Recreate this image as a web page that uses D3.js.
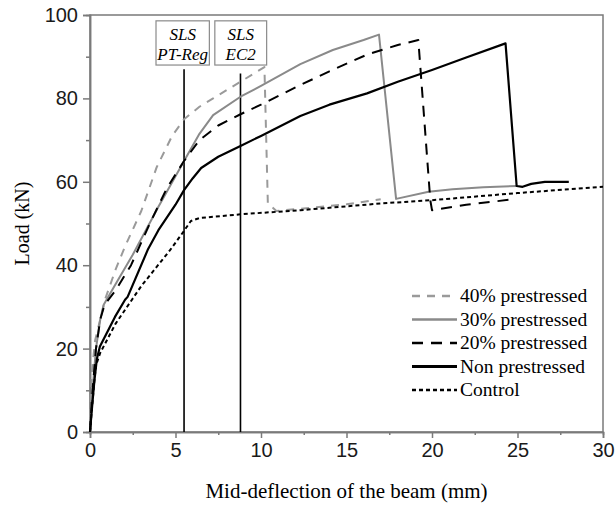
<!DOCTYPE html>
<html>
<head>
<meta charset="utf-8">
<script src="https://cdn.jsdelivr.net/npm/d3@7"></script>
<style>
  body { margin: 0; background: #fff; }
</style>
</head>
<body>
<div id="container"></div>
<script>
let w = 616;
let h = 509;

// load-deflection curves, [deflection mm, load kN]
let p40 = [[0,0],[0.05,8],[0.1,14],[0.3,22],[0.6,27],[0.9,32],[1.5,39],[2.05,44.5],[3,53],[3.9,63.5],[4.8,71],[5.5,75],[6.4,78],[7.2,80],[8.8,84],[10.2,87.5],[10.4,54.8],[10.9,53],[13,53.8],[15,54.6],[17,55.8]];
let p30 = [[0,0],[0.15,10],[0.35,20],[0.6,27],[0.8,30.5],[1.5,35.5],[2.5,42.5],[4,54],[5.5,65],[6.4,71.5],[7.2,76],[8.8,80.4],[10,83],[12.3,88.2],[14.2,91.6],[16,94],[16.9,95.3],[17.9,55.9],[19.8,57.6],[21.2,58.2],[23,58.7],[25,59]];
let p20 = [[0,0],[0.15,10],[0.35,20],[0.6,27],[0.85,30.5],[1.5,34],[2.4,40],[3.5,50],[4.5,58.5],[5.5,65],[6.4,70],[7.5,73.5],[8.8,76.2],[10,78.5],[12.3,83.2],[14,86.5],[16.2,90.5],[18,92.8],[19.2,94],[19.9,55.6],[20,53.2],[22,54.5],[24.75,55.8]];
let p0 = [[0,0],[0.1,5],[0.25,12],[0.4,17.5],[0.58,20.5],[1.46,27.6],[2.05,31.7],[2.2,32.4],[3.4,43.9],[4,48.4],[5,54.5],[5.5,58],[6,60.8],[6.5,63.3],[7.5,66],[8.8,68.6],[10,71],[12.3,75.8],[14,78.5],[16.2,81.2],[18,84],[20,86.8],[22,89.8],[24.3,93.2],[24.95,59],[25.3,58.8],[25.8,59.5],[26.6,60],[28,60]];
let control = [[0,0],[0.1,5],[0.25,12],[0.35,16],[0.6,19],[1.5,26],[3,35],[4.68,43.6],[5.46,48],[5.9,50.6],[6.4,51.3],[8.8,52.2],[12.3,53.2],[17,54.8],[20,55.6],[25,57.3],[30,58.8]];

let seriesNames = ["40% prestressed", "30% prestressed", "20% prestressed", "Non prestressed", "Control"];
let seriesData = [p40, p30, p20, p0, control];

// SLS limits
let slsX = [5.5, 8.8];
let slsTop = [87, 86];
let slsLabel = [["SLS", "PT-Reg"], ["SLS", "EC2"]];
let slsBoxX = [[3.86, 6.98], [7.3, 10.33]];

let xTicks = [0, 5, 10, 15, 20, 25, 30];
let yTicks = [0, 20, 40, 60, 80, 100];

let styles = [
  {color: "#9a9a9a", width: 2, dash: "8,7"},
  {color: "#8a8a8a", width: 2, dash: null},
  {color: "#000", width: 2, dash: "11,8"},
  {color: "#000", width: 2.2, dash: null},
  {color: "#000", width: 2, dash: "4,3"}
];

let margin = {left: 90, right: 13, top: 15, bottom: 77};

let viz = d3.select("#container")
  .append("svg")
    .attr("width", w)
    .attr("height", h)
    .style("background-color", "#fff")
;

let x = d3.scaleLinear().domain([0, 30]).range([margin.left, w - margin.right]);
let y = d3.scaleLinear().domain([0, 100]).range([h - margin.bottom, margin.top]);

let axisColor = "#7a7a7a";
let serif = "'Liberation Serif', 'Times New Roman', serif";

// frame
viz.append("rect")
    .attr("x", x(0))
    .attr("y", y(100))
    .attr("width", x(30) - x(0))
    .attr("height", y(0) - y(100))
    .attr("fill", "none")
    .attr("stroke", axisColor)
    .attr("stroke-width", 1.5)
;

// x axis
let xAxis = viz.append("g")
    .attr("transform", "translate(0," + y(0) + ")")
    .call(d3.axisBottom(x).tickValues(xTicks).tickSize(6).tickPadding(5).tickFormat(d3.format("d")));
xAxis.append("g")
    .call(d3.axisBottom(x).tickValues(d3.range(2.5, 30, 5)).tickSize(3).tickFormat(""));

// y axis
let yAxis = viz.append("g")
    .attr("transform", "translate(" + x(0) + ",0)")
    .call(d3.axisLeft(y).tickValues(yTicks).tickSize(7).tickPadding(5));
yAxis.append("g")
    .call(d3.axisLeft(y).tickValues(d3.range(10, 100, 20)).tickSize(4).tickFormat(""));

viz.selectAll(".domain").attr("stroke", axisColor).attr("stroke-width", 1.5);
viz.selectAll(".tick line").attr("stroke", axisColor).attr("stroke-width", 1.5);
viz.selectAll(".tick text")
    .attr("fill", "#1a1a1a")
    .style("font-family", "'Liberation Sans', Arial, sans-serif")
    .style("font-size", "20px")
;

// axis titles
viz.append("text")
    .attr("x", (x(0) + x(30)) / 2)
    .attr("y", 498)
    .attr("text-anchor", "middle")
    .style("font-family", serif)
    .style("font-size", "21px")
    .text("Mid-deflection of the beam (mm)")
;
viz.append("text")
    .attr("transform", "translate(29," + (y(0) + y(100)) / 2 + ") rotate(-90)")
    .attr("text-anchor", "middle")
    .style("font-family", serif)
    .style("font-size", "20px")
    .text("Load (kN)")
;

// SLS vertical lines
viz.selectAll(".sls").data(slsX).enter()
  .append("line")
    .attr("class", "sls")
    .attr("x1", d => x(d))
    .attr("x2", d => x(d))
    .attr("y1", y(0))
    .attr("y2", (d, i) => y(slsTop[i]))
    .attr("stroke", "#000")
    .attr("stroke-width", 1.6)
;

// SLS boxes
let boxes = viz.selectAll(".slsbox").data(slsBoxX).enter()
  .append("g")
    .attr("class", "slsbox")
;
boxes.append("rect")
    .attr("x", d => x(d[0]))
    .attr("y", y(98.6))
    .attr("width", d => x(d[1]) - x(d[0]))
    .attr("height", y(88) - y(98.6))
    .attr("fill", "#fff")
    .attr("stroke", "#8a8a8a")
    .attr("stroke-width", 1.2)
;
boxes.each(function(d, i) {
  let g = d3.select(this);
  slsLabel[i].forEach(function(t, j) {
    g.append("text")
        .attr("x", (x(d[0]) + x(d[1])) / 2)
        .attr("y", j == 0 ? 40 : 60)
        .attr("text-anchor", "middle")
        .style("font-family", serif)
        .style("font-style", "italic")
        .style("font-size", "17px")
        .text(t);
  });
});

// curves
let line = d3.line().x(d => x(d[0])).y(d => y(d[1]));

viz.selectAll(".curve").data(seriesData).enter()
  .append("path")
    .attr("class", "curve")
    .attr("d", line)
    .attr("fill", "none")
    .attr("stroke", (d, i) => styles[i].color)
    .attr("stroke-width", (d, i) => styles[i].width)
    .attr("stroke-dasharray", (d, i) => styles[i].dash)
    .attr("stroke-linejoin", "round")
;

// legend
let legend = viz.selectAll(".legend").data(seriesNames).enter()
  .append("g")
    .attr("class", "legend")
    .attr("transform", (d, i) => "translate(412," + (296 + i * 23.5) + ")")
;
legend.append("line")
    .attr("x1", 0)
    .attr("x2", 45)
    .attr("y1", 0)
    .attr("y2", 0)
    .attr("stroke", (d, i) => styles[i].color)
    .attr("stroke-width", (d, i) => i == 3 ? 2.8 : styles[i].width + 0.4)
    .attr("stroke-dasharray", (d, i) => styles[i].dash)
;
legend.append("text")
    .attr("x", 48)
    .attr("y", 6)
    .style("font-family", serif)
    .style("font-size", "19.5px")
    .text(d => d)
;
</script>
</body>
</html>
